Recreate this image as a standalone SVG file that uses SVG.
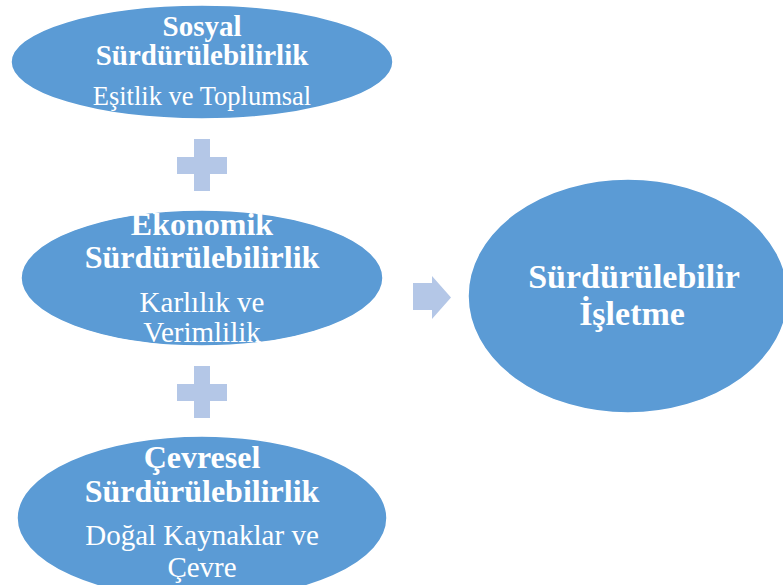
<svg xmlns="http://www.w3.org/2000/svg" width="783" height="585" viewBox="0 0 783 585">
<style>
.node{fill:#5B9BD5;stroke:#FFFFFF;stroke-width:1.5}
.conn{fill:#B4C7E7}
.t{font-family:"Liberation Serif","Times New Roman",serif;fill:#FFFFFF;text-anchor:middle}
.b{font-weight:bold}
</style>
<rect width="783" height="585" fill="#FFFFFF"/>
<g id="connectors">
<path class="conn" d="M194,139 H210 V157 H227 V174 H210 V191 H194 V174 H177 V157 H194 Z"/>
<path class="conn" d="M194,366 H210 V384 H227 V401 H210 V418 H194 V401 H177 V384 H194 Z"/>
<path class="conn" d="M413,283 H432 V276 L451,297.5 L432,319 V310 H413 Z"/>
</g>
<g id="sosyal">
<ellipse class="node" cx="202" cy="62" rx="191" ry="57"/>
<text class="t b" x="202" y="36" font-size="29">Sosyal</text>
<text class="t b" x="202" y="65" font-size="29">Sürdürülebilirlik</text>
<text class="t" x="202" y="105" font-size="26.5">Eşitlik ve Toplumsal</text>
</g>
<g id="ekonomik">
<ellipse class="node" cx="202" cy="278" rx="181" ry="68"/>
<text class="t b" x="202" y="235" font-size="32">Ekonomik</text>
<text class="t b" x="202" y="268" font-size="32">Sürdürülebilirlik</text>
<text class="t" x="202" y="312" font-size="29">Karlılık ve</text>
<text class="t" x="202" y="342" font-size="29">Verimlilik</text>
</g>
<g id="cevresel">
<ellipse class="node" cx="202" cy="518" rx="185" ry="82"/>
<text class="t b" x="202" y="468" font-size="32">Çevresel</text>
<text class="t b" x="202" y="502" font-size="32">Sürdürülebilirlik</text>
<text class="t" x="202" y="545" font-size="29">Doğal Kaynaklar ve</text>
<text class="t" x="202" y="577" font-size="29">Çevre</text>
</g>
<g id="isletme">
<ellipse class="node" cx="628" cy="296" rx="160" ry="117"/>
<text class="t b" x="634" y="288" font-size="34">Sürdürülebilir</text>
<text class="t b" x="632" y="325" font-size="34">İşletme</text>
</g>
</svg>
